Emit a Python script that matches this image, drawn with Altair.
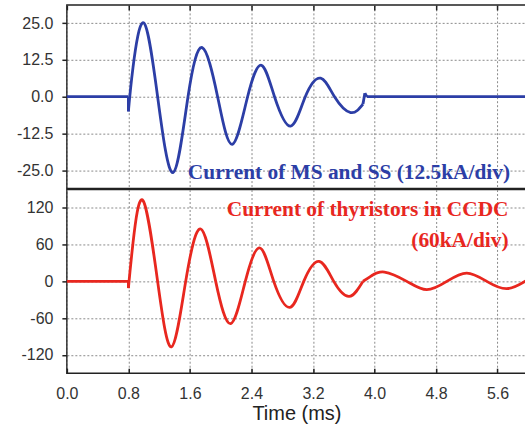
import altair as alt
import pandas as pd

# ---- data ----
time_ticks = [0.0, 0.8, 1.6, 2.4, 3.2, 4.0, 4.8, 5.6]
ms_ticks = [-25.0, -12.5, 0.0, 12.5, 25.0]
thy_ticks = [-120, -60, 0, 60, 120]

# Current of MS and SS (kA)
ms_time = [0.0, 0.8,
           0.8, 0.8,
           0.80, 0.86, 1.00, 1.18, 1.38, 1.575, 1.76, 1.96, 2.15, 2.35, 2.53, 2.70,
           2.91, 3.10, 3.30, 3.48, 3.69, 3.85,
           3.85, 3.875,
           3.875, 3.90,
           3.90, 5.97]
ms_current = [0.0, 0.0,
              0.0, -5.0,
              -5.0, 10.0, 25.1, 0.0, -25.8, 0.0, 16.7, 0.0, -16.2, 0.0, 10.7, 0.0,
              -10.0, 0.0, 6.3, 0.0, -5.4, -2.5,
              -2.5, 1.2,
              1.2, 0.0,
              0.0, 0.0]
ms_segment = ["a", "a", "b", "b"] + ["c"] * 18 + ["d", "d", "e", "e", "f", "f"]

# Current of thyristors in CCDC (kA)
thy_time = [0.0, 0.8,
            0.8, 0.8,
            0.80, 0.86, 0.99, 1.18, 1.36, 1.545, 1.74, 1.935, 2.13, 2.32, 2.51, 2.69,
            2.90, 3.08, 3.28, 3.47, 3.67, 3.85,
            3.85, 3.96, 4.13, 4.42, 4.68, 4.94, 5.20, 5.46, 5.72, 5.97]
thy_current = [0.0, 0.0,
               0.0, -11.0,
               -11.0, 63.0, 132.0, 0.0, -107.0, 0.0, 85.5, 0.0, -69.0, 0.0, 54.5, 0.0,
               -42.5, 0.0, 32.7, 0.0, -24.5, 0.0,
               0.0, 9.0, 15.2, 0.0, -13.6, 0.0, 13.6, 0.0, -12.0, 1.0]
thy_segment = ["a", "a", "b", "b"] + ["c"] * 18 + ["d"] * 10

ms_label = "Current of MS and SS (12.5kA/div)"
thy_label = ["Current of thyristors in CCDC", "(60kA/div)"]

ms_df = pd.DataFrame({"t": ms_time, "v": ms_current, "seg": ms_segment})
thy_df = pd.DataFrame({"t": thy_time, "v": thy_current, "seg": thy_segment})

W = 460
H = 184
BLUE = "#2c3ea6"
RED = "#e8271f"
GRID = dict(grid=True, gridDash=[2, 2], gridColor="#8a8a8a", gridWidth=1)
MINUS = "replace(format(datum.value, '{f}'), '\u2212', '-')"

x_scale = alt.Scale(domain=[0, 5.97], nice=False, zero=False)


def y_axis(values, fmt):
    return alt.Axis(values=values, labelExpr=MINUS.format(f=fmt), title=None,
                    domain=False, tickSize=5, tickColor="#222", tickWidth=1.5,
                    labelPadding=9, minExtent=52, maxExtent=52, **GRID)


# ---- top panel ----
top_line = alt.Chart(ms_df).mark_line(
    interpolate="natural", color=BLUE, strokeWidth=2.8
).encode(
    x=alt.X("t:Q", scale=x_scale,
            axis=alt.Axis(orient="bottom", offset=-H, values=time_ticks, labels=False,
                          title=None, domain=False, tickSize=5, tickColor="#222",
                          tickWidth=1.5, **GRID)),
    y=alt.Y("v:Q", scale=alt.Scale(domain=[-31.25, 31.25], nice=False, zero=False),
            axis=y_axis(ms_ticks, ".1f")),
    detail="seg:N",
)
top_text = alt.Chart(alt.Data(values=[{}])).mark_text(
    text=ms_label, align="right", baseline="alphabetic", font="Liberation Serif",
    fontWeight="bold", fontSize=21.4, color=BLUE
).encode(x=alt.value(444), y=alt.value(174))
top = alt.layer(top_line, top_text).properties(width=W, height=H)

# ---- bottom panel ----
y_bot = alt.Y("v:Q", scale=alt.Scale(domain=[-150, 150], nice=False, zero=False),
              axis=y_axis(thy_ticks, "d"))
bot_line = alt.Chart(thy_df).mark_line(
    interpolate="natural", color=RED, strokeWidth=2.8
).encode(
    x=alt.X("t:Q", scale=x_scale,
            axis=alt.Axis(orient="bottom", values=time_ticks, format=".1f", ticks=False,
                          labelFlush=False, labelPadding=12, domain=False,
                          title="Time (ms)", titleFontSize=20, titleFontWeight="normal",
                          titlePadding=2, titleColor="#222", **GRID)),
    y=y_bot,
    detail="seg:N",
)
bot_ticks = alt.Chart(thy_df).mark_line(opacity=0).encode(
    x=alt.X("t:Q", scale=x_scale,
            axis=alt.Axis(orient="top", offset=-H, values=time_ticks, labels=False,
                          title=None, domain=False, grid=False, tickSize=5,
                          tickColor="#222", tickWidth=1.5)),
    y=y_bot,
    detail="seg:N",
)
bot_text = alt.Chart(alt.Data(values=[{}])).mark_text(
    text=thy_label, align="right", baseline="alphabetic", font="Liberation Serif",
    fontWeight="bold", fontSize=21.4, color=RED, lineHeight=31
).encode(x=alt.value(442.5), y=alt.value(27))
bottom = alt.layer(bot_ticks, bot_line, bot_text).resolve_axis(x="independent").properties(
    width=W, height=H)

chart = alt.vconcat(top, bottom, spacing=-6).properties(
    padding={"left": 14, "top": 2.5, "right": -8, "bottom": 0},
    background="white",
).configure_view(
    stroke="#222", strokeWidth=1.5
).configure_axis(
    labelFont="Liberation Sans", labelFontSize=16, labelColor="#333",
    titleFont="Liberation Sans",
)

chart.save("out.html", embed_options={"renderer": "svg", "actions": False})
